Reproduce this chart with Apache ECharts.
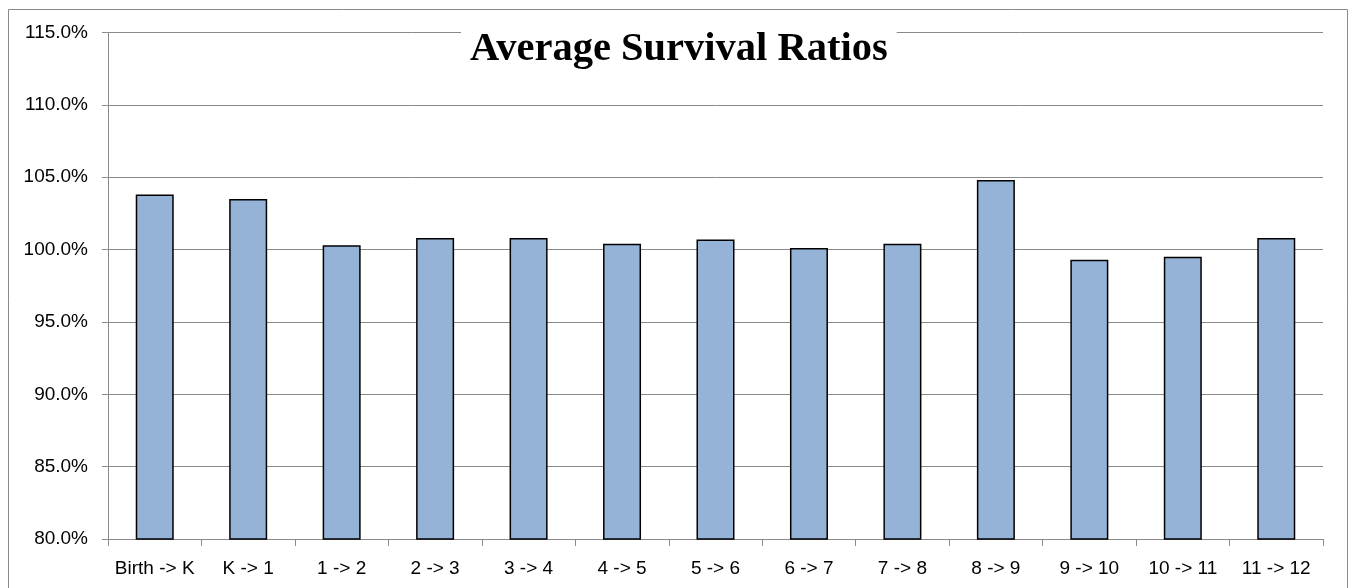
<!DOCTYPE html>
<html>
<head>
<meta charset="utf-8">
<script src="https://cdn.jsdelivr.net/npm/echarts@6/dist/echarts.min.js"></script>
<style>
  html, body { margin: 0; padding: 0; background: #fff; }
  #chart { width: 1349px; height: 588px; }
</style>
</head>
<body>
<div id="chart"></div>
<script>
const categories = ['Birth -> K', 'K -> 1', '1 -> 2', '2 -> 3', '3 -> 4', '4 -> 5', '5 -> 6',
  '6 -> 7', '7 -> 8', '8 -> 9', '9 -> 10', '10 -> 11', '11 -> 12'];
const survivalRatios = [103.8, 103.5, 100.3, 100.8, 100.8, 100.4, 100.7, 100.1, 100.4, 104.8, 99.3, 99.5, 100.8];
const titleText = 'Average Survival Ratios';

const chart = echarts.init(document.getElementById('chart'));

const option = {
  backgroundColor: '#fff',
  animation: false,
  title: {
    text: titleText,
    left: 461,
    top: 28,
    padding: [2, 9],
    backgroundColor: '#fff',
    textStyle: {
      fontFamily: 'Liberation Serif, Times New Roman, serif',
      fontWeight: 'bold',
      fontSize: 40.5,
      lineHeight: 40,
      color: '#000'
    }
  },
  graphic: [{
    type: 'rect',
    z: -1,
    shape: { x: 8.5, y: 9.5, width: 1339, height: 600 },
    style: { fill: 'none', stroke: '#8a8a8a', lineWidth: 1 }
  }],
  grid: { left: 108, right: 26, top: 32.5, bottom: 49, containLabel: false },
  xAxis: {
    type: 'category',
    data: categories,
    axisLine: { lineStyle: { color: '#8a8a8a', width: 1 } },
    axisTick: { show: true, alignWithLabel: false, length: 7, lineStyle: { color: '#8a8a8a' } },
    axisLabel: {
      margin: 20,
      interval: 0,
      color: '#000',
      fontSize: 19,
      fontFamily: 'Liberation Sans, Arial, sans-serif'
    }
  },
  yAxis: {
    type: 'value',
    min: 80,
    max: 115,
    interval: 5,
    axisLine: { show: true, lineStyle: { color: '#8a8a8a', width: 1 } },
    axisTick: { show: true, inside: false, length: 6, lineStyle: { color: '#8a8a8a' } },
    splitLine: { show: true, lineStyle: { color: '#8a8a8a', width: 1 } },
    axisLabel: {
      margin: 20,
      padding: [5, 0, 0, 0],
      color: '#000',
      fontSize: 19,
      fontFamily: 'Liberation Sans, Arial, sans-serif',
      formatter: v => v.toFixed(1) + '%'
    }
  },
  series: [{
    type: 'bar',
    data: survivalRatios,
    barWidth: 38,
    itemStyle: {
      color: '#95b3d7',
      borderColor: '#000',
      borderWidth: 1.5
    }
  }]
};

chart.setOption(option);
window.addEventListener('resize', () => chart.resize());
</script>
</body>
</html>
